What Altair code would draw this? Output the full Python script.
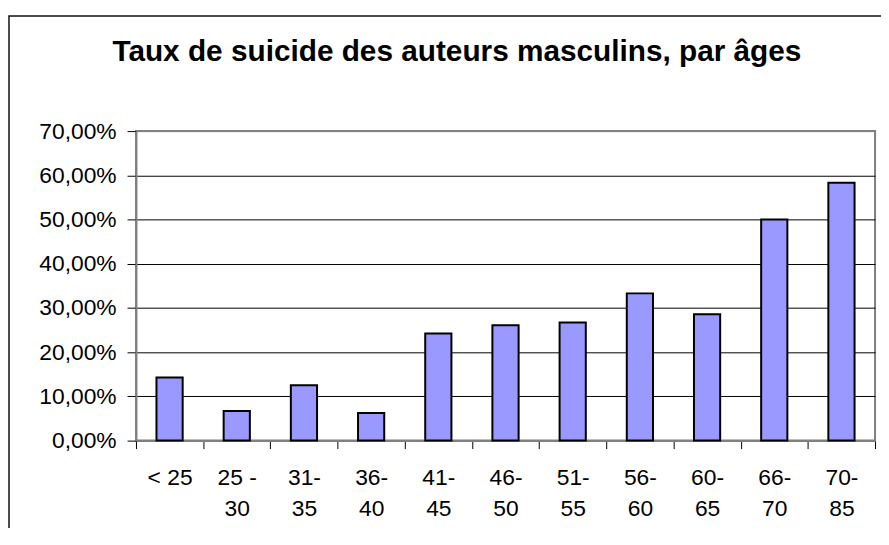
import altair as alt
import pandas as pd

# ---- data ----
categories = ["< 25", "25 -\n30", "31-\n35", "36-\n40", "41-\n45", "46-\n50",
              "51-\n55", "56-\n60", "60-\n65", "66-\n70", "70-\n85"]
rates = [0.143, 0.067, 0.125, 0.0625, 0.242, 0.261, 0.267, 0.333, 0.286, 0.500, 0.583]
y_ticks = [0.0, 0.1, 0.2, 0.3, 0.4, 0.5, 0.6, 0.7]
title_text = "Taux de suicide des auteurs masculins, par âges"

df = pd.DataFrame({"age": categories, "taux": rates})
frame_df = pd.DataFrame({"k": [0]})

W, H = 745, 312
FONT = "Liberation Sans"

bars = alt.Chart(df).mark_bar(
    width={"band": 0.39}, fill="#9999FF", stroke="black", strokeWidth=2
).encode(
    x=alt.X("age:N", sort=categories, title=None,
            scale=alt.Scale(paddingInner=0, paddingOuter=0),
            axis=alt.Axis(labelAngle=0, tickBand="extent", tickSize=8,
                          tickColor="black", tickWidth=1,
                          labelPadding=18, labelLineHeight=32,
                          labelFontSize=23, labelFont=FONT, labelColor="black",
                          labelExpr="split(datum.label, '\\n')",
                          domainColor="#808080", domainWidth=2, grid=False)),
    y=alt.Y("taux:Q", title=None,
            scale=alt.Scale(domain=[0, 0.7], nice=False),
            axis=alt.Axis(values=y_ticks, tickSize=9, tickColor="black", tickWidth=1,
                          labelPadding=11, labelFontSize=23, labelFont=FONT,
                          labelColor="black",
                          labelExpr="replace(format(datum.value, '.2%'), '.', ',')",
                          domainColor="#808080", domainWidth=2,
                          grid=True, gridWidth=1,
                          gridColor=alt.condition("datum.value >= 0.69 || datum.value <= 0.001",
                                                  alt.value("#808080"), alt.value("black")))),
)

frame = alt.Chart(frame_df).mark_rect(
    fillOpacity=0, stroke="#111111", strokeWidth=1.5
).encode(
    x=alt.value(-128), x2=alt.value(800), y=alt.value(-116), y2=alt.value(500)
)

chart = alt.layer(frame, bars).properties(
    width=W, height=H,
    title=alt.TitleParams(title_text, fontSize=30, font=FONT, fontWeight="bold",
                          color="black", anchor="middle", frame="group",
                          baseline="alphabetic", offset=0, dx=-49, dy=76),
    autosize=alt.AutoSizeParams(type="none"),
    padding={"left": 129, "top": 122, "right": 6, "bottom": 86},
).configure_view(stroke="#808080", strokeWidth=2)

chart.save("out.html", embed_options={"renderer": "svg", "actions": False})
